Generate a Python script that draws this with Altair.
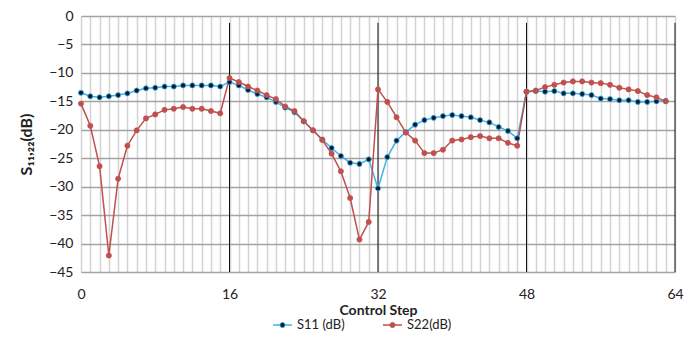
import altair as alt
import pandas as pd

steps = list(range(64))
s11 = [-13.5, -14.1, -14.3, -14.1, -13.9, -13.6, -13.1, -12.7, -12.6, -12.4,
       -12.4, -12.2, -12.2, -12.2, -12.2, -12.4, -11.6, -12.2, -13.0, -13.7,
       -14.3, -15.1, -16.1, -16.9, -18.5, -20.1, -21.7, -23.2, -24.6, -25.8,
       -26.0, -25.2, -30.3, -24.8, -21.9, -20.4, -19.1, -18.3, -17.9, -17.6,
       -17.4, -17.6, -17.8, -18.3, -18.7, -19.5, -20.2, -21.5, -13.3, -13.2,
       -13.3, -13.2, -13.6, -13.6, -13.7, -13.9, -14.5, -14.6, -14.8, -14.8,
       -15.1, -15.1, -15.0, -14.9]
s22 = [-15.4, -19.3, -26.4, -42.1, -28.6, -22.8, -20.1, -18.0, -17.3, -16.5,
       -16.3, -16.0, -16.3, -16.3, -16.7, -17.1, -10.9, -11.6, -12.4, -13.1,
       -13.9, -14.6, -15.9, -16.7, -18.5, -20.1, -21.8, -24.2, -27.3, -32.0,
       -39.3, -36.2, -12.9, -15.1, -17.8, -20.5, -21.9, -24.1, -24.1, -23.5,
       -21.9, -21.7, -21.3, -21.1, -21.5, -21.5, -22.3, -22.8, -13.3, -13.1,
       -12.5, -12.1, -11.7, -11.5, -11.5, -11.7, -11.8, -12.1, -12.6, -12.9,
       -13.2, -13.9, -14.3, -15.0]
series_names = ["S11 (dB)", "S22(dB)"]
line_colors = ["#3db2e8", "#c0504d"]
marker_colors = ["#0b1a33", "#c0504d"]
divider_steps = [16, 32, 48, 64]
x_ticks = list(range(0, 65))
y_ticks = list(range(-45, 1, 5))

FONT = "Lato"

df = pd.DataFrame({
    "step": steps * 2,
    "value": s11 + s22,
    "series": [series_names[0]] * len(s11) + [series_names[1]] * len(s22),
})
div_df = pd.DataFrame({"step": divider_steps})
leg_df = pd.DataFrame({"series": series_names})

x_scale = alt.Scale(domain=[0, 64], nice=False, zero=False)
y_scale = alt.Scale(domain=[-45, 0], nice=False)
stroke_scale = alt.Scale(domain=series_names, range=line_colors)
fill_scale = alt.Scale(domain=series_names, range=marker_colors)

x_axis = alt.Axis(
    values=x_ticks, tickCount=200, format="d",
    labelExpr="datum.value % 16 === 0 ? datum.label : ''",
    grid=True, gridColor="#d4d4d4", gridWidth=1.5,
    ticks=False, domain=False, labelFlush=False, labelOverlap=False,
    labelPadding=15, labelFontSize=14, labelFont=FONT, labelColor="#222",
    title="Control Step", titleFont=FONT, titleFontSize=14,
    titleFontWeight="bold", titlePadding=2, titleColor="#222",
)
y_axis = alt.Axis(
    values=y_ticks, tickCount=200, format="d",
    grid=True, gridColor="#a3a3a3", gridWidth=1.5,
    ticks=False, domain=False, labelOverlap=False,
    labelPadding=8, labelFontSize=14, labelFont=FONT, labelColor="#222",
    title="S\u2081\u2081,\u2082\u2082(dB)", titleFont=FONT, titleFontSize=16,
    titleFontWeight="bold", titlePadding=14, titleColor="#222",
)

base = alt.Chart(df).encode(
    x=alt.X("step:Q", scale=x_scale, axis=x_axis),
    y=alt.Y("value:Q", scale=y_scale, axis=y_axis),
)

rules = alt.Chart(div_df).mark_rule(color="#111", strokeWidth=1).encode(
    x=alt.X("step:Q", scale=x_scale, axis=x_axis),
    y=alt.Y(datum=-1.2, scale=y_scale, axis=y_axis),
    y2=alt.datum(-45),
)

lines = base.mark_line(strokeWidth=1.5).encode(
    color=alt.Color("series:N", scale=stroke_scale, legend=None),
    detail="series:N",
)

points = base.mark_point(filled=True, size=26, opacity=1, strokeWidth=0.8).encode(
    fill=alt.Fill("series:N", scale=fill_scale, legend=None),
    stroke=alt.Stroke("series:N", scale=stroke_scale, legend=None),
)

main = alt.layer(rules, lines, points)

# legend (line + marker + label), placed below the axis title
leg_x = alt.X("series:N", axis=None,
              scale=alt.Scale(type="point", domain=series_names,
                              range=[192, 302], padding=0))
leg_base = alt.Chart(leg_df).encode(x=leg_x)
leg_y = alt.value(309)

leg_line = leg_base.mark_rule(strokeWidth=1.5, x2Offset=19).encode(
    x2=alt.X2("series:N"),
    y=leg_y,
    stroke=alt.Stroke("series:N", scale=stroke_scale, legend=None),
)
leg_dot = leg_base.mark_point(filled=True, size=26, opacity=1,
                              strokeWidth=0.8, xOffset=9.5).encode(
    y=leg_y,
    fill=alt.Fill("series:N", scale=fill_scale, legend=None),
    stroke=alt.Stroke("series:N", scale=stroke_scale, legend=None),
)
leg_text = leg_base.mark_text(align="left", baseline="middle", dx=24,
                              fontSize=13, font=FONT, color="#222").encode(
    y=leg_y,
    text="series:N",
)
legend_layer = alt.layer(leg_line, leg_dot, leg_text)

chart = alt.layer(main, legend_layer).resolve_scale(x="independent").properties(
    width=594, height=256,
    autosize=alt.AutoSizeParams(type="none"),
    padding={"left": 73, "top": 8, "right": 11, "bottom": 61},
).configure_view(strokeWidth=0).configure(background="white")

chart.save("out.html", embed_options={"renderer": "svg", "actions": False})
